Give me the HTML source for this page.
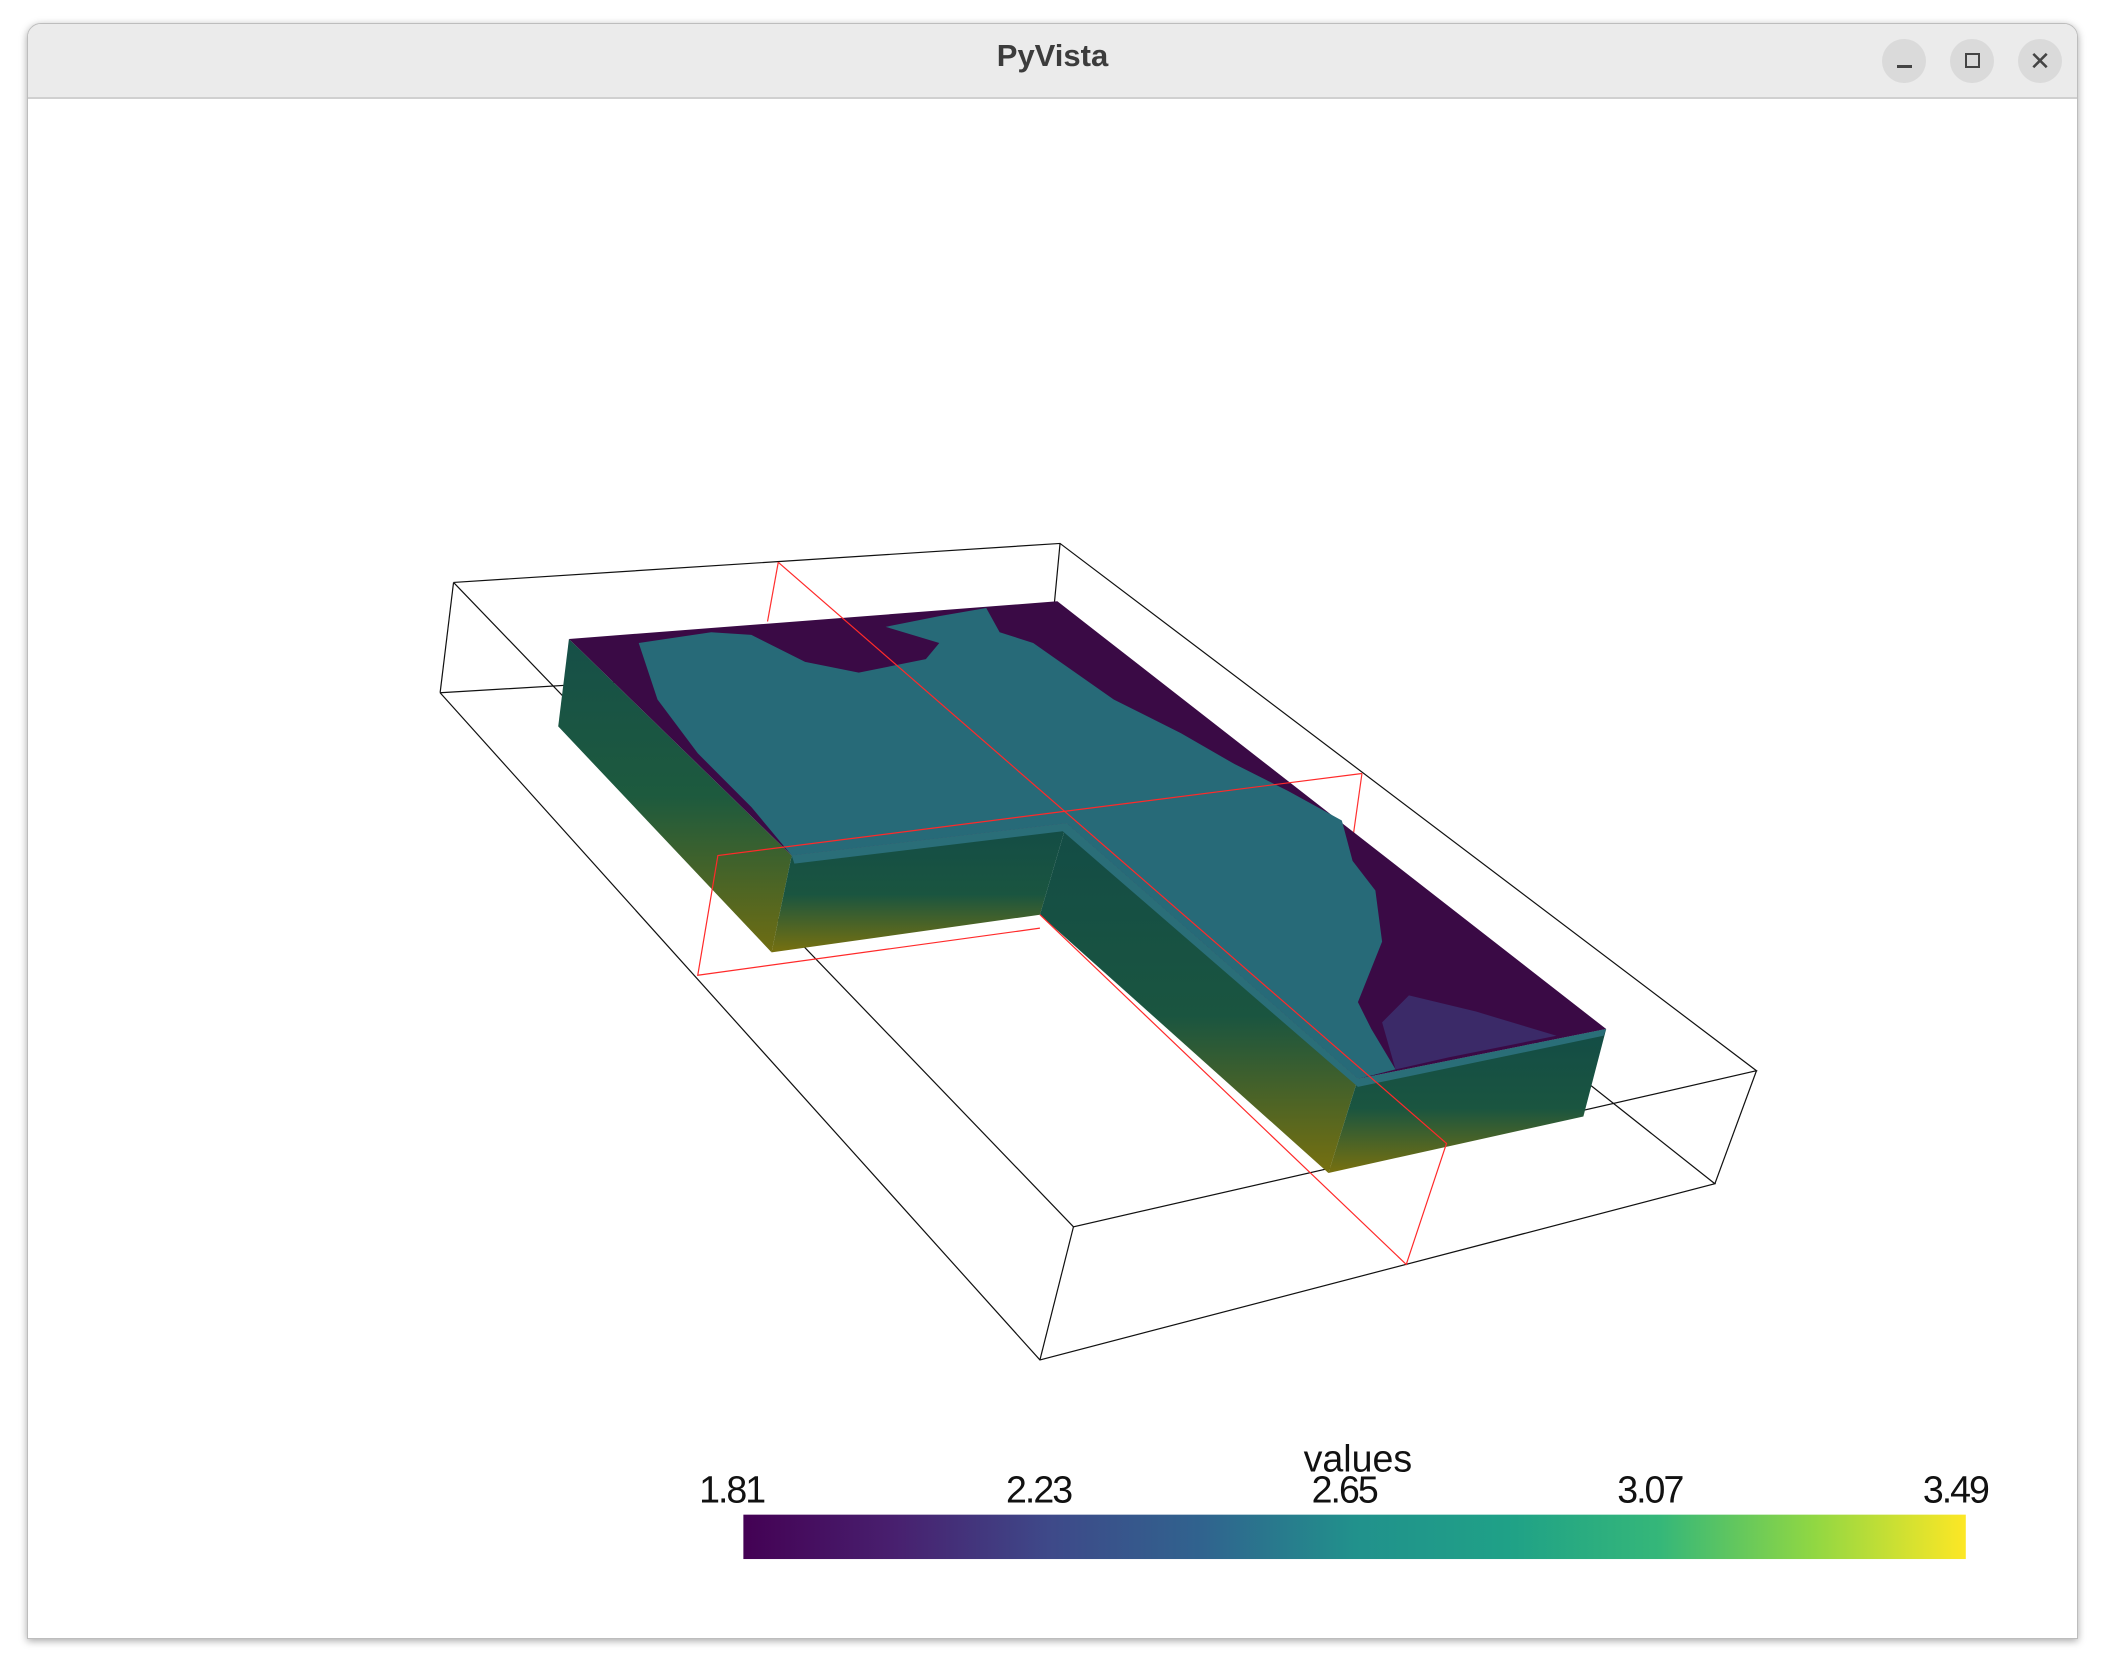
<!DOCTYPE html>
<html><head><meta charset="utf-8"><style>
html,body{margin:0;padding:0;background:#fff;}
body{width:2104px;height:1668px;position:relative;overflow:hidden;font-family:"Liberation Sans",sans-serif;}
#win{position:absolute;left:27px;top:23px;width:2049px;height:1614px;border:1px solid #bdbdbd;border-radius:14px 14px 0 0;box-shadow:0 2px 8px rgba(0,0,0,0.35);background:#fff;overflow:hidden;}
#titlebar{position:absolute;left:0;top:0;width:100%;height:73px;background:#ebebeb;border-bottom:2px solid #d0d0d0;}
#title{position:absolute;left:0;width:100%;top:14px;text-align:center;font-size:31px;font-weight:bold;color:#3c3c3c;}
.btn{position:absolute;top:15px;width:44px;height:44px;border-radius:50%;background:#dadada;color:#444;text-align:center;line-height:44px;font-size:26px;}
svg{position:absolute;left:0;top:0;}
</style></head><body>
<div id="win">
 <div id="titlebar">
  <div id="title">PyVista</div>
  <div class="btn" style="left:1854px"><div style="position:absolute;left:15px;top:26px;width:15px;height:3px;background:#444"></div></div>
  <div class="btn" style="left:1922px"><div style="position:absolute;left:15px;top:14px;width:11px;height:11px;border:2.5px solid #444"></div></div>
  <div class="btn" style="left:1990px">✕</div>
 </div>
</div>
<svg id="scene" width="2104" height="1668" viewBox="0 0 1568 1240" preserveAspectRatio="none">
 <defs>
  <linearGradient id="side" x1="0" y1="0" x2="0" y2="1">
   <stop offset="0" stop-color="#164f48"/><stop offset="0.5" stop-color="#1d5a3e"/><stop offset="1" stop-color="#6f6d12"/>
  </linearGradient>
  <linearGradient id="side2" x1="0" y1="0" x2="0" y2="1">
   <stop offset="0" stop-color="#134c46"/><stop offset="0.55" stop-color="#1a5540"/><stop offset="1" stop-color="#77700f"/>
  </linearGradient>
  <linearGradient id="viridis" x1="0" y1="0" x2="1" y2="0">
   <stop offset="0" stop-color="#440154"/><stop offset="0.125" stop-color="#48206f"/><stop offset="0.25" stop-color="#3e4989"/>
   <stop offset="0.375" stop-color="#30638e"/><stop offset="0.5" stop-color="#21918c"/><stop offset="0.625" stop-color="#1fa187"/>
   <stop offset="0.75" stop-color="#35b779"/><stop offset="0.875" stop-color="#90d743"/><stop offset="1" stop-color="#fde725"/>
  </linearGradient>
 </defs>
 <g stroke="#111" stroke-width="0.9" fill="none">
  <polyline points="338,433 790,404 1309,796 800,912 338,433"/>
  <polyline points="328,515 775,1011 1278,880 782,488 328,515"/>
  <line x1="338" y1="433" x2="328" y2="515"/>
  <line x1="790" y1="404" x2="782" y2="488"/>
  <line x1="1309" y1="796" x2="1278" y2="880"/>
  <line x1="800" y1="912" x2="775" y2="1011"/>
 </g>
 <g stroke="#ff3030" stroke-width="0.9" fill="none">
  <line x1="580" y1="418" x2="572" y2="462"/>
  <line x1="1015" y1="575" x2="1003" y2="660"/>
 </g>
 <g>
  <polygon points="424,475 416,540 575,708 590,636" fill="url(#side)"/>
  <polygon points="590,636 795,612 775,680 575,708" fill="url(#side2)"/>
  <polygon points="795,612 1012,802 990,872 775,680" fill="url(#side2)"/>
  <polygon points="1012,802 1197,765 1180,830 990,872" fill="url(#side2)"/>
  <polygon points="424,475 788,447 1197,765 1012,802 795,612 590,636" fill="#3a0a45"/>
  <polygon fill="#276a78" points="476,478 530,470 560,472 600,492 640,500 690,490 700,478 660,466 700,458 735,452 745,470 770,478 830,520 880,545 920,568 960,588 1000,610 1008,640 1025,662 1030,700 1012,745 1022,765 1040,795 1012,802 795,612 590,636 560,600 520,560 490,520"/>
  <polygon fill="#3b2a68" points="1040,795 1030,760 1050,740 1100,752 1160,770 1080,786"/>
  <polygon fill="#2a6e78" points="590,636 795,612 1012,802 1197,765 1195,770 1012,808 792,618 592,642"/>
 </g>
 <g stroke="#ff2a2a" stroke-width="0.9" fill="none">
  <polyline points="580,418 1078,850 1048,940 775,680"/>
  <polyline points="1015,575 535,636 520,725 775,690"/>
 </g>
 <g id="cbar"></g>
</svg>
<script>
const tickValues = [1.81, 2.23, 2.65, 3.07, 3.49];
const rangeMin = 1.81;
const rangeMax = 3.49;
const cbarTitle = "values";
(function(){
  const NS = "http://www.w3.org/2000/svg";
  const g = document.getElementById('cbar');
  const x0 = 554, x1 = 1465, y0 = 1126, y1 = 1159;
  const xs = v => x0 + (v - rangeMin) / (rangeMax - rangeMin) * (x1 - x0);
  const r = document.createElementNS(NS, 'rect');
  
  
  r.setAttribute('x', xs(rangeMin)); r.setAttribute('y', y0);
  r.setAttribute('width', xs(rangeMax) - xs(rangeMin)); r.setAttribute('height', y1 - y0);
  r.setAttribute('fill', 'url(#viridis)');
  g.appendChild(r);
  tickValues.forEach(v => {
    const t = document.createElementNS(NS, 'text');
    
    
    t.setAttribute('x', xs(v) - 7 + (v===rangeMin? -1:0) + (v===rangeMax? 0:0));
    t.setAttribute('y', 1117);
    t.setAttribute('text-anchor', 'middle');
    t.setAttribute('font-size', '28');
    t.setAttribute('fill', '#111');
    t.setAttribute('font-family', 'Liberation Sans, sans-serif');
    t.setAttribute('textLength', '50');
    t.textContent = v.toFixed(2);
    g.appendChild(t);
  });
  const tt = document.createElementNS(NS, 'text');
  
  
  tt.setAttribute('x', 1012); tt.setAttribute('y', 1094);
  tt.setAttribute('text-anchor', 'middle'); tt.setAttribute('font-size', '28');
  tt.setAttribute('fill', '#111');
  tt.setAttribute('font-family', 'Liberation Sans, sans-serif');
  tt.textContent = cbarTitle;
  g.appendChild(tt);
})();
</script>
</body></html>
